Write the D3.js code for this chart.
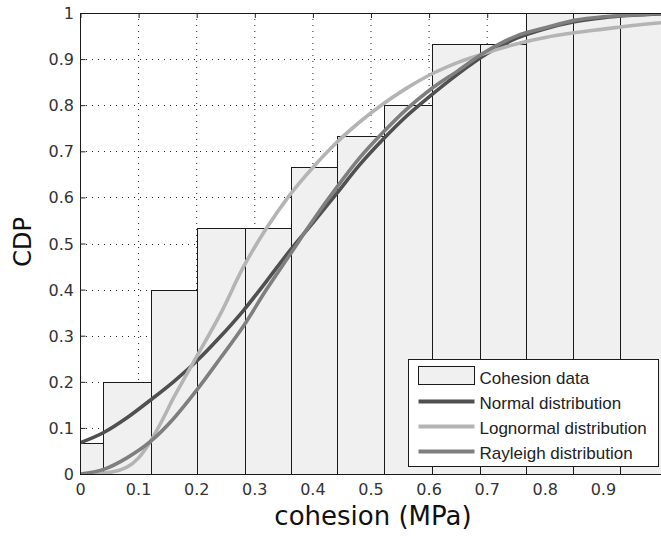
<!DOCTYPE html>
<html>
<head>
<meta charset="utf-8">
<script src="https://cdn.jsdelivr.net/npm/d3@7"></script>
<style>
  body { margin: 0; background: #fff; }
  svg { display: block; }
</style>
</head>
<body>
<div id="chart"></div>
<script>
// ***** data *****
// histogram bin edges (MPa) and cumulative fraction of each bin
var binEdges = [-0.042, 0.039, 0.121, 0.201, 0.283, 0.363, 0.442, 0.523, 0.605, 0.687, 0.766, 0.847, 0.929, 1.01];
var binCdf = [0.067, 0.2, 0.4, 0.533, 0.533, 0.667, 0.733, 0.8, 0.933, 0.933, 1, 1, 1];

// fitted curves, sampled by eye
var fitX = [0, 0.04, 0.08, 0.12, 0.16, 0.2, 0.24, 0.28, 0.32, 0.36, 0.4, 0.44, 0.48, 0.52, 0.56, 0.6, 0.65, 0.7, 0.75, 0.8, 0.85, 0.9, 0.95, 1.0];
var normalCdf = [0.068, 0.09, 0.122, 0.16, 0.2, 0.245, 0.297, 0.354, 0.418, 0.484, 0.545, 0.607, 0.67, 0.725, 0.775, 0.818, 0.868, 0.912, 0.945, 0.966, 0.981, 0.99, 0.995, 0.998];
var rayleighCdf = [0, 0.01, 0.035, 0.07, 0.12, 0.182, 0.25, 0.32, 0.4, 0.475, 0.55, 0.62, 0.685, 0.74, 0.79, 0.832, 0.875, 0.918, 0.95, 0.968, 0.984, 0.992, 0.996, 0.999];
var lognX = [0, 0.04, 0.08, 0.1, 0.12, 0.14, 0.16, 0.18, 0.2, 0.24, 0.28, 0.32, 0.36, 0.4, 0.44, 0.48, 0.52, 0.56, 0.6, 0.65, 0.7, 0.75, 0.8, 0.85, 0.9, 0.95, 1.0];
var lognormalCdf = [0, 0.002, 0.015, 0.035, 0.07, 0.115, 0.165, 0.21, 0.255, 0.345, 0.448, 0.533, 0.605, 0.665, 0.718, 0.763, 0.802, 0.836, 0.865, 0.893, 0.914, 0.933, 0.947, 0.957, 0.965, 0.973, 0.979];

var xTicks = [0, 0.1, 0.2, 0.3, 0.4, 0.5, 0.6, 0.7, 0.8, 0.9];
var yTicks = [0, 0.1, 0.2, 0.3, 0.4, 0.5, 0.6, 0.7, 0.8, 0.9, 1];
var legendNames = ["Cohesion data", "Normal distribution", "Lognormal distribution", "Rayleigh distribution"];

// ***** layout *****
var margin = {top: 13, right: 0, bottom: 62, left: 80},
    width = 661 - margin.left - margin.right,
    height = 536 - margin.top - margin.bottom;

var svg = d3.select("#chart")
  .append("svg")
    .attr("width", 661)
    .attr("height", 536);

var plot = svg.append("g")
    .attr("transform", "translate(" + margin.left + "," + margin.top + ")");

var x = d3.scaleLinear().domain([0, 1]).range([0.5, width + 0.5]);
var y = d3.scaleLinear().domain([0, 1]).range([height, 0]);

plot.append("clipPath").attr("id", "clip")
  .append("rect")
    .attr("x", 0.5).attr("y", 0)
    .attr("width", width).attr("height", height);

// grid, dotted, behind the bars
plot.selectAll("vgrid")
  .data(xTicks.slice(1))
  .enter()
  .append("line")
    .attr("x1", function(d) { return x(d); })
    .attr("x2", function(d) { return x(d); })
    .attr("y1", 0)
    .attr("y2", height)
    .attr("stroke", "#222")
    .attr("stroke-dasharray", "1,5")
plot.selectAll("hgrid")
  .data(yTicks.slice(1, -1))
  .enter()
  .append("line")
    .attr("x1", 0)
    .attr("x2", width)
    .attr("y1", function(d) { return Math.round(y(d)) + 0.5; })
    .attr("y2", function(d) { return Math.round(y(d)) + 0.5; })
    .attr("stroke", "#222")
    .attr("stroke-dasharray", "1,5")

// inward ticks on all sides
var ax = d3.axisBottom(x).tickValues(xTicks).tickSize(-5).tickFormat("");
var ay = d3.axisLeft(y).tickValues(yTicks).tickSize(-5).tickFormat("");
plot.append("g").attr("transform", "translate(0," + height + ")").call(ax);
plot.append("g").call(d3.axisTop(x).tickValues(xTicks).tickSize(-5).tickFormat(""));
plot.append("g").attr("transform", "translate(0.5,0)").call(ay);
plot.selectAll(".domain").remove();
plot.selectAll(".tick line").attr("stroke", "#222");

// bars
var bars = plot.append("g").attr("clip-path", "url(#clip)");
bars.selectAll("mybar")
  .data(binCdf)
  .enter()
  .append("rect")
    .attr("x", function(d, i) { return Math.round(x(binEdges[i])) + 0.5; })
    .attr("width", function(d, i) { return Math.round(x(binEdges[i + 1])) - Math.round(x(binEdges[i])); })
    .attr("y", function(d) { return Math.round(y(d)) + 0.5; })
    .attr("height", function(d) { return height - Math.round(y(d)); })
    .attr("fill", "#f0f0f0")
    .attr("stroke", "#1a1a1a")
    .attr("stroke-width", 1)

// fitted curves
var lines = [
  {xs: fitX, ys: normalCdf, color: "#505050"},
  {xs: lognX, ys: lognormalCdf, color: "#b4b4b4"},
  {xs: fitX, ys: rayleighCdf, color: "#7f7f7f"}
];
var line = d3.line()
  .x(function(d) { return x(d[0]); })
  .y(function(d) { return y(d[1]); })
  .curve(d3.curveMonotoneX);
bars.selectAll("mycurve")
  .data(lines)
  .enter()
  .append("path")
    .attr("d", function(s) { return line(d3.zip(s.xs, s.ys)); })
    .attr("fill", "none")
    .attr("stroke", function(s) { return s.color; })
    .attr("stroke-width", 3.6)

// box
plot.append("rect")
  .attr("x", 0.5).attr("y", 0.5)
  .attr("width", width).attr("height", height)
  .attr("fill", "none")
  .attr("stroke", "#1a1a1a")

// tick labels
plot.selectAll("xlab")
  .data(xTicks)
  .enter()
  .append("text")
    .attr("x", function(d) { return x(d); })
    .attr("y", height + 21)
    .attr("text-anchor", "middle")
    .style("font-family", "DejaVu Sans")
    .style("font-size", "16px")
    .style("fill", "#333")
    .text(function(d) { return d; })
plot.selectAll("ylab")
  .data(yTicks)
  .enter()
  .append("text")
    .attr("x", -6)
    .attr("y", function(d) { return y(d) + 6; })
    .attr("text-anchor", "end")
    .style("font-family", "DejaVu Sans")
    .style("font-size", "16px")
    .style("fill", "#333")
    .text(function(d) { return d; })

// axis titles
svg.append("text")
  .attr("x", 373)
  .attr("y", 525)
  .attr("text-anchor", "middle")
  .style("font-family", "DejaVu Sans")
  .style("font-size", "26px")
  .style("fill", "#111")
  .text("cohesion (MPa)")
svg.append("text")
  .attr("transform", "translate(31,242) rotate(-90)")
  .attr("text-anchor", "middle")
  .style("font-family", "DejaVu Sans")
  .style("font-size", "24px")
  .style("fill", "#111")
  .text("CDP")

// legend
var legend = svg.append("g").attr("transform", "translate(408.5,359.5)");
legend.append("rect")
  .attr("width", 250).attr("height", 107)
  .attr("fill", "#fff")
  .attr("stroke", "#1a1a1a")
legend.append("rect")
  .attr("x", 10).attr("y", 7)
  .attr("width", 56).attr("height", 18)
  .attr("fill", "#f0f0f0")
  .attr("stroke", "#1a1a1a")
legend.selectAll("legline")
  .data(lines)
  .enter()
  .append("line")
    .attr("x1", 10).attr("x2", 66)
    .attr("y1", function(d, i) { return 42 + i * 25; })
    .attr("y2", function(d, i) { return 42 + i * 25; })
    .attr("stroke", function(d) { return d.color; })
    .attr("stroke-width", 4)
legend.selectAll("legtext")
  .data(legendNames)
  .enter()
  .append("text")
    .attr("x", 71)
    .attr("y", function(d, i) { return 24 + i * 25; })
    .style("font-family", "Liberation Sans")
    .style("font-size", "17px")
    .style("fill", "#222")
    .text(function(d) { return d; })
</script>
</body>
</html>
